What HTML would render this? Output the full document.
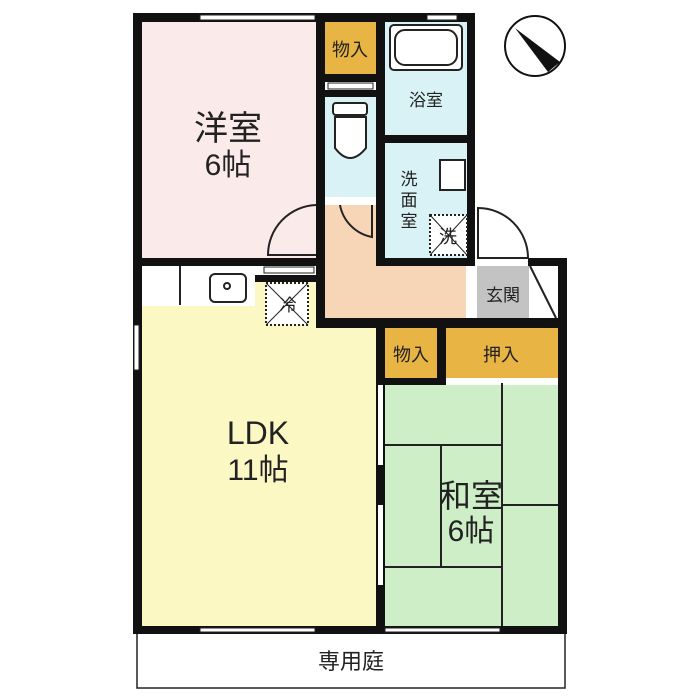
<!DOCTYPE html>
<html><head><meta charset="utf-8"><style>
html,body{margin:0;padding:0;background:#fff;width:700px;height:700px;overflow:hidden}
text{font-family:"Liberation Sans","Noto Sans CJK JP",sans-serif;fill:#222}
</style></head><body>
<svg width="700" height="700" viewBox="0 0 700 700" xmlns="http://www.w3.org/2000/svg">
<!-- garden -->
<rect x="137" y="630" width="428" height="58" fill="#fff" stroke="#222" stroke-width="1.5"/>
<!-- room fills -->
<rect x="142" y="22" width="174" height="236" fill="#fbeaea"/>
<rect x="325" y="22" width="51" height="52" fill="#e8b444"/>
<rect x="385" y="22" width="82" height="113" fill="#d8f2f6"/>
<rect x="325" y="97" width="51" height="100" fill="#d8f2f6"/>
<rect x="385" y="143" width="83" height="115" fill="#d8f2f6"/>
<path d="M325 205 H378 V266 H466 V318 H325 Z" fill="#f7d6b8"/>
<rect x="477" y="266" width="52" height="52" fill="#c3c3c3"/>
<rect x="142" y="266" width="176" height="40" fill="#fff"/>
<path d="M142 306 H255 V282 H318 V328 H377 V626 H142 Z" fill="#fbf8c4"/>
<rect x="385" y="328" width="52" height="50" fill="#e8b444"/>
<rect x="446" y="328" width="112" height="50" fill="#e8b444"/>
<rect x="385" y="385" width="173" height="241" fill="#cdeec6"/>
<!-- tatami lines -->
<g stroke="#222" stroke-width="2" fill="none">
<line x1="385" y1="445" x2="502" y2="445"/>
<line x1="502" y1="383" x2="502" y2="626"/>
<line x1="441" y1="445" x2="441" y2="567"/>
<line x1="385" y1="567" x2="502" y2="567"/>
<line x1="502" y1="505" x2="558" y2="505"/>
</g>
<!-- walls -->
<g fill="#111">
<rect x="133" y="13" width="9" height="620"/>
<rect x="133" y="13" width="342" height="9"/>
<rect x="467" y="13" width="8" height="252"/>
<rect x="316" y="22" width="9" height="306"/>
<rect x="376" y="22" width="9" height="243"/>
<rect x="325" y="74" width="51" height="8"/>
<rect x="325" y="90" width="51" height="7"/>
<rect x="385" y="135" width="82" height="8"/>
<rect x="133" y="258" width="185" height="8"/>
<rect x="255" y="275" width="63" height="7"/>
<rect x="376" y="258" width="99" height="8"/>
<rect x="528" y="258" width="39" height="8"/>
<rect x="558" y="258" width="9" height="375"/>
<rect x="318" y="318" width="249" height="10"/>
<rect x="376" y="318" width="9" height="315"/>
<rect x="437" y="328" width="9" height="50"/>
<rect x="385" y="378" width="61" height="7"/>
<rect x="133" y="626" width="434" height="8"/>
</g>
<!-- windows -->
<g fill="#fff" stroke="#222" stroke-width="1">
<rect x="200" y="15" width="115" height="5"/>
<rect x="200" y="628" width="115" height="4"/>
<rect x="385" y="628" width="115" height="4"/>
<rect x="134" y="325" width="5" height="45"/>
<rect x="427" y="15" width="30" height="5"/>
<rect x="385" y="84" width="0" height="0"/>
<rect x="328" y="83" width="45" height="6"/>
<rect x="264" y="267" width="50" height="6"/>
<rect x="378" y="385" width="5" height="80" stroke="none"/>
<rect x="378" y="505" width="5" height="80" stroke="none"/>
</g>
<!-- kitchen -->
<g stroke="#222" stroke-width="2" fill="#fff">
<line x1="180" y1="266" x2="180" y2="305"/>
<rect x="210" y="274" width="36" height="28" rx="5"/>
<circle cx="227" cy="286" r="3"/>
<rect x="266" y="283" width="42" height="42" stroke-dasharray="2 2"/>
<line x1="266" y1="283" x2="308" y2="325" stroke-width="1"/>
<line x1="308" y1="283" x2="266" y2="325" stroke-width="1"/>
<rect x="430" y="215" width="37" height="40" stroke-dasharray="2 2"/>
<line x1="430" y1="215" x2="467" y2="255" stroke-width="1"/>
<line x1="467" y1="215" x2="430" y2="255" stroke-width="1"/>
<!-- bath -->
<rect x="390" y="25" width="72" height="45" rx="4"/>
<rect x="395" y="30" width="62" height="35" rx="10"/>
<!-- toilet -->
<rect x="333" y="103" width="34" height="12" rx="3"/>
<path d="M335 117 H366 V148 Q350 168 335 148 Z"/>
<!-- sink -->
<rect x="440" y="160" width="25" height="30"/>
<!-- door arcs -->
<path d="M316 205 A50 50 0 0 0 268 255 H316" fill="none"/>
<path d="M340 205 A40 40 0 0 0 372 237 V205" fill="none"/>
<path d="M478 208 A50 50 0 0 1 528 258 H478 Z" fill="none"/>
<line x1="530" y1="266" x2="556" y2="318"/>
</g>
<!-- compass -->
<circle cx="535" cy="46" r="30" fill="#fff" stroke="#111" stroke-width="2"/>
<path d="M515 28 L560 62 L548 72 Z" fill="#111"/>
<!-- labels -->
<text x="228" y="140" font-size="34" text-anchor="middle">洋室</text>
<text x="228" y="175" font-size="30" text-anchor="middle">6帖</text>
<text x="350" y="56" font-size="18" text-anchor="middle">物入</text>
<text x="426" y="106" font-size="17" text-anchor="middle">浴室</text>
<text x="409" y="185" font-size="17" text-anchor="middle">洗</text>
<text x="409" y="206" font-size="17" text-anchor="middle">面</text>
<text x="409" y="227" font-size="17" text-anchor="middle">室</text>
<text x="448" y="243" font-size="18" text-anchor="middle">洗</text>
<text x="288" y="311" font-size="17" text-anchor="middle">冷</text>
<text x="503" y="301" font-size="17" text-anchor="middle">玄関</text>
<text x="411" y="361" font-size="18" text-anchor="middle">物入</text>
<text x="501" y="361" font-size="18" text-anchor="middle">押入</text>
<text x="258" y="444" font-size="32" text-anchor="middle">LDK</text>
<text x="258" y="480" font-size="30" text-anchor="middle">11帖</text>
<text x="471" y="507" font-size="32" text-anchor="middle">和室</text>
<text x="471" y="541" font-size="30" text-anchor="middle">6帖</text>
<text x="351" y="669" font-size="22" text-anchor="middle">専用庭</text>
</svg>
</body></html>
